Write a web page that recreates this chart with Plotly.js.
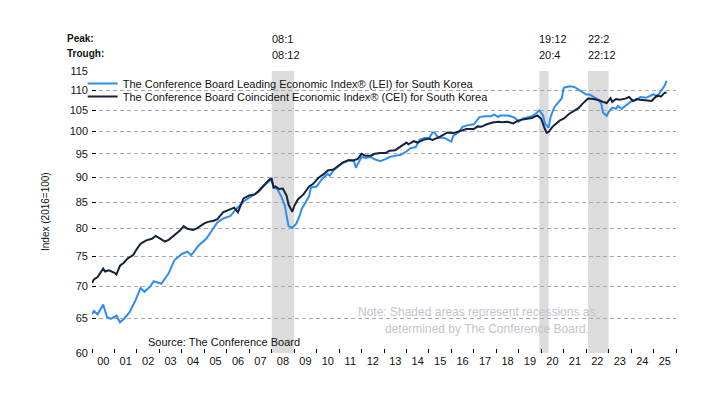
<!DOCTYPE html>
<html>
<head>
<meta charset="utf-8">
<script src="https://cdn.plot.ly/plotly-3.0.1.min.js"></script>
<style>
html,body{margin:0;padding:0;background:#fff;}
#chart{width:720px;height:403px;}
</style>
</head>
<body>
<div id="chart"></div>
<script>
// ---- Data ----
const leiDates = ['2000-01','2000-02','2000-04','2000-07','2000-09','2000-11','2001-02','2001-04','2001-06','2001-09','2001-12',
'2002-03','2002-05','2002-08','2002-10','2003-02','2003-06','2003-09','2004-01','2004-04','2004-06','2004-10',
'2005-02','2005-05','2005-08','2005-11','2006-03','2006-06','2006-08','2006-10','2007-02','2007-06','2007-09','2007-12',
'2008-01','2008-02','2008-04','2008-06','2008-08','2008-09','2008-10','2008-12','2009-02','2009-04','2009-05','2009-07',
'2009-09','2009-10','2010-01','2010-04','2010-07','2010-08','2010-10','2011-01','2011-03','2011-06','2011-09','2011-10',
'2012-01','2012-03','2012-06','2012-08','2012-11','2013-02','2013-04','2013-07','2013-10','2014-01','2014-03','2014-06',
'2014-08','2014-11','2015-01','2015-03','2015-04','2015-06','2015-09','2016-01','2016-02','2016-05','2016-07','2016-10',
'2017-01','2017-04','2017-07','2017-10','2017-12','2018-02','2018-03','2018-06','2018-08','2018-11','2019-01','2019-03',
'2019-06','2019-08','2019-10','2019-12','2020-02','2020-03','2020-05','2020-06','2020-08','2020-10','2020-12','2021-01',
'2021-04','2021-07','2021-09','2021-11','2022-01','2022-03','2022-05','2022-07','2022-09','2022-10','2022-12','2023-01',
'2023-03','2023-05','2023-06','2023-08','2023-10','2024-01','2024-04','2024-06','2024-09','2024-11','2025-01','2025-03',
'2025-05','2025-07','2025-08'];
const leiValues = [65.6,66.1,65.6,67.1,65.2,64.9,65.4,64.4,64.9,65.9,67.6,
69.7,69.1,69.9,70.8,70.4,72.1,74.3,75.4,75.8,75.2,76.9,
78.1,79.6,81.1,81.8,82.3,83.6,84.4,85.1,86.1,87.0,88.3,89.3,
89.3,87.9,87.6,86.2,84.3,82.4,80.4,80.1,80.8,82.4,83.6,84.8,
86.2,87.9,88.1,89.7,90.7,90.3,91.4,92.4,93.0,93.6,93.4,92.0,
94.3,94.1,94.3,93.8,93.4,93.9,94.3,94.6,94.8,95.5,96.2,96.5,
98.1,98.6,98.4,99.8,99.8,98.6,98.6,97.7,99.0,99.9,101.1,101.5,
101.7,103.4,103.6,103.6,104.0,103.4,103.8,103.8,103.7,103.2,102.3,103.0,
103.4,103.6,104.2,105.0,103.8,101.9,100.9,103.4,105.8,107.0,108.0,110.6,
111.0,110.8,110.2,109.4,108.9,108.9,108.4,107.8,106.8,104.5,103.7,104.6,
105.7,105.4,106.1,105.4,106.1,107.2,107.6,108.3,108.1,108.5,109.0,108.4,
109.8,111.2,112.4];

const ceiDates = ['2000-01','2000-02','2000-04','2000-07','2000-08','2000-10','2001-01','2001-02','2001-04','2001-06','2001-08',
'2001-11','2002-01','2002-03','2002-04','2002-06','2002-09','2002-11','2003-01','2003-04','2003-06','2003-09','2003-12',
'2004-02','2004-04','2004-07','2004-09','2005-01','2005-03','2005-06','2005-08','2005-11','2006-01','2006-04','2006-05',
'2006-07','2006-09','2006-10','2007-01','2007-04','2007-06','2007-09','2007-12','2008-01','2008-02','2008-03','2008-05',
'2008-07','2008-09','2008-10','2008-12','2009-01','2009-03','2009-06','2009-09','2009-11','2010-02','2010-05','2010-07',
'2010-10','2011-01','2011-03','2011-06','2011-09','2011-11','2012-01','2012-03','2012-06','2012-08','2012-11','2013-02',
'2013-04','2013-07','2013-10','2014-01','2014-02','2014-05','2014-07','2014-10','2015-01','2015-03','2015-06','2015-09',
'2015-11','2016-02','2016-05','2016-09','2017-01','2017-03','2017-05','2017-08','2017-11','2018-02','2018-04','2018-07',
'2018-10','2019-01','2019-03','2019-06','2019-08','2019-11','2020-01','2020-03','2020-04','2020-05','2020-07','2020-09',
'2020-11','2021-01','2021-04','2021-07','2021-09','2021-11','2022-02','2022-05','2022-08','2022-10','2022-12','2023-02',
'2023-03','2023-05','2023-07','2023-10','2023-12','2024-02','2024-04','2024-06','2024-09','2024-12','2025-01','2025-03',
'2025-05','2025-07','2025-08'];
const ceiValues = [70.5,71.1,71.5,72.9,72.4,72.6,72.2,71.9,73.4,73.9,74.6,
75.2,76.3,77.2,77.4,77.8,78.1,78.6,78.2,77.6,77.9,78.7,79.6,
80.4,79.9,79.7,80.0,80.9,81.2,81.4,81.7,83.0,83.3,83.7,83.9,
83.0,85.1,85.7,86.3,86.5,87.2,88.3,89.6,89.7,87.9,88.1,87.6,
87.7,86.2,84.5,83.1,84.2,85.5,86.5,88.1,88.6,89.9,90.7,91.4,
91.6,92.4,93.1,93.6,93.6,93.9,95.0,94.6,94.6,95.0,95.2,95.2,
95.7,95.8,96.7,97.5,97.1,97.8,97.5,98.1,98.4,98.1,98.6,99.4,
99.8,99.6,100.0,100.6,100.6,101.2,101.1,101.7,102.1,102.3,102.2,102.3,
101.9,102.6,102.8,103.0,103.2,103.8,103.0,100.6,99.7,99.9,101.1,101.9,
102.6,103.0,104.2,105.0,105.6,106.6,107.9,107.8,107.5,107.1,106.8,108.0,
107.1,107.8,107.6,107.9,108.3,107.3,107.8,107.6,107.5,107.3,107.8,108.7,
108.4,109.4,109.4];

const yTickValues = [60,65,70,75,80,85,90,95,100,105,110,115];
const yGridValues = [65,70,75,80,85,90,95,100,105,110];

const recessionStart = ['2008-01-01','2019-12-01','2022-02-01'];
const recessionEnd   = ['2009-01-01','2020-05-01','2023-01-01'];
const peakLabels   = ['08:1','19:12','22:2'];
const troughLabels = ['08:12','20:4','22:12'];

const leiName = 'The Conference Board Leading Economic Index\u00AE (LEI) for South Korea';
const ceiName = 'The Conference Board Coincident Economic Index\u00AE (CEI) for South Korea';

// ---- Chart ----
const FONT = 'Liberation Sans, Arial, sans-serif';
const L = 92, R = 44, T = 71, B = 50, W = 720, H = 403;
const pw = W - L - R, ph = H - T - B;
const px = v => (v - L) / pw;          // pixel x -> paper x
const py = v => (H - B - v) / ph;      // pixel y -> paper y

const traces = [
  {x: leiDates, y: leiValues, type: 'scatter', mode: 'lines', name: leiName,
   line: {color: '#2f8cf3', width: 2}, legend: 'legend'},
  {x: ceiDates, y: ceiValues, type: 'scatter', mode: 'lines', name: ceiName,
   line: {color: '#14233b', width: 2}, legend: 'legend2'}
];

const shapes = recessionStart.map((s, i) => ({
  type: 'rect', xref: 'x', yref: 'paper', x0: s, x1: recessionEnd[i], y0: 0, y1: 1,
  fillcolor: '#dcdcdc', line: {width: 0}, layer: 'below'
}));

const annotations = [];
recessionStart.forEach((s, i) => {
  annotations.push({x: s, xref: 'x', y: py(39), yref: 'paper', text: peakLabels[i],
    showarrow: false, xanchor: 'left', yanchor: 'middle', xshift: -2,
    font: {family: FONT, size: 11, color: '#111'}});
  annotations.push({x: s, xref: 'x', y: py(55), yref: 'paper', text: troughLabels[i],
    showarrow: false, xanchor: 'left', yanchor: 'middle', xshift: -2,
    font: {family: FONT, size: 11, color: '#111'}});
});
annotations.push(
  {x: px(65), xref: 'paper', y: py(38), yref: 'paper', text: '<b>Peak:</b>', showarrow: false,
   xanchor: 'left', yanchor: 'middle', font: {family: FONT, size: 10, color: '#111'}},
  {x: px(65), xref: 'paper', y: py(53), yref: 'paper', text: '<b>Trough:</b>', showarrow: false,
   xanchor: 'left', yanchor: 'middle', font: {family: FONT, size: 10, color: '#111'}},
  {x: px(45), xref: 'paper', y: 0.5, yref: 'paper', text: 'Index (2016=100)', textangle: -90,
   showarrow: false, xanchor: 'center', yanchor: 'middle', font: {family: FONT, size: 10, color: '#111'}},
  {x: px(476), xref: 'paper', y: py(312), yref: 'paper', text: 'Note: Shaded areas represent recessions as',
   showarrow: false, xanchor: 'center', yanchor: 'middle', font: {family: FONT, size: 12, color: '#c4c4cc'}},
  {x: px(487), xref: 'paper', y: py(329), yref: 'paper', text: 'determined by The Conference Board.',
   showarrow: false, xanchor: 'center', yanchor: 'middle', font: {family: FONT, size: 12, color: '#c4c4cc'}},
  {x: px(146), xref: 'paper', y: py(342), yref: 'paper', text: 'Source: The Conference Board',
   showarrow: false, xanchor: 'left', yanchor: 'middle', font: {family: FONT, size: 11, color: '#111'}}
);

const yRange = [Math.log10(60), Math.log10(115)];

const layout = {
  width: W, height: H,
  margin: {l: L, r: R, t: T, b: B, pad: 0},
  paper_bgcolor: '#fff', plot_bgcolor: 'rgba(0,0,0,0)',
  font: {family: FONT, size: 11, color: '#111'},
  showlegend: true,
  legend: {x: px(82.7), y: py(69), xanchor: 'left', yanchor: 'top', bgcolor: 'rgba(0,0,0,0)',
           borderwidth: 0, font: {family: FONT, size: 11, color: '#111'}},
  legend2: {x: px(82.7), y: py(82), xanchor: 'left', yanchor: 'top', bgcolor: 'rgba(0,0,0,0)',
           borderwidth: 0, font: {family: FONT, size: 11, color: '#111'}},
  xaxis: {
    type: 'date', range: ['2000-01-01', '2026-01-01'],
    tick0: '2000-01-01', dtick: 'M12', tickformat: '%y', ticklabelmode: 'period',
    ticks: 'inside', ticklen: 4, tickwidth: 1, tickcolor: '#000',
    showgrid: false, zeroline: false, showline: false,
    tickfont: {family: FONT, size: 11, color: '#111'}, fixedrange: true
  },
  yaxis: {
    type: 'log', range: yRange,
    tickmode: 'array', tickvals: yTickValues, ticktext: yTickValues.map(String),
    ticks: 'inside', ticklen: 4, tickwidth: 1, tickcolor: '#000', ticklabelstandoff: 3,
    showgrid: false, zeroline: false, showline: false,
    tickfont: {family: FONT, size: 11, color: '#111'}, fixedrange: true
  },
  yaxis2: {
    type: 'log', range: yRange, overlaying: 'y',
    tickmode: 'array', tickvals: yGridValues, showticklabels: false, ticks: '',
    showgrid: true, gridcolor: '#a8a8a8', gridwidth: 1, griddash: '4px,3px',
    zeroline: false, showline: false, fixedrange: true
  },
  shapes: shapes,
  annotations: annotations
};

// empty helper trace so the grid-only overlay axis is drawn
traces.push({x: [], y: [], yaxis: 'y2', type: 'scatter', mode: 'lines', showlegend: false, hoverinfo: 'skip'});

Plotly.newPlot('chart', traces, layout, {staticPlot: true, displayModeBar: false});
</script>
</body>
</html>
